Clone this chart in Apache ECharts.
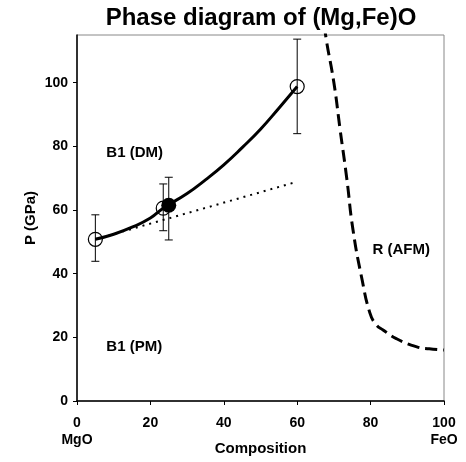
<!DOCTYPE html>
<html><head><meta charset="utf-8">
<script src="https://cdn.jsdelivr.net/npm/echarts@6/dist/echarts.min.js"></script>
<style>html,body{margin:0;padding:0;background:#fff}#c{width:466px;height:462px}</style>
</head><body><div id="c"></div>
<script>
// Measured points: [composition, pressure]
const openPoints = [[5, 50.8], [23.5, 60.6], [60, 98.8]];
const filledPoints = [[25, 61.5]];
// Error bars: [composition, low, high]
const errorBars = [[5, 43.9, 58.5], [23.5, 53.5, 68.2], [25, 50.6, 70.3], [60, 84.0, 113.7]];
// B1 DM/PM boundary (solid curve)
const boundaryCurve = [[5, 50.8], [10, 52.4], [15, 54.6], [20, 57.5], [23.5, 60.6], [30, 65.2], [35, 69.5], [40, 74.2], [45, 79.6], [50, 85.4], [55, 92], [60, 98.8]];
// Linear trend (dotted)
const linearTrend = [[5, 50.8], [60, 68.9]];
// B1 / R transition (dashed)
const rBoundary = [[67.4, 118], [68, 113], [70, 100], [71.7, 85.2], [73.5, 70], [75.2, 53.8], [77.7, 38], [79.8, 27.7], [81.5, 24], [83.4, 22.3], [87, 19.6], [92.6, 17], [96, 16.4], [100, 16]];
// Region labels
const regionLabels = [[8, 78, 'B1 (DM)'], [8, 17, 'B1 (PM)'], [80.5, 47.5, 'R (AFM)']];
const xTicks = [0, 20, 40, 60, 80, 100];
const yTicks = [0, 20, 40, 60, 80, 100];
const xEndNames = {0: 'MgO', 100: 'FeO'};

const font = 'Liberation Sans, Arial, sans-serif';
const chart = echarts.init(document.getElementById('c'));
chart.setOption({
  animation: false,
  title: {text: 'Phase diagram of (Mg,Fe)O', left: 256, textAlign: 'center', top: 1,
    textStyle: {fontFamily: font, fontWeight: 'bold', fontSize: 24, color: '#000'}},
  grid: {left: 77, right: 22, top: 35, bottom: 61, show: true, borderColor: '#888', borderWidth: 1,
    containLabel: false, outerBoundsMode: 'none'},
  xAxis: {type: 'value', min: 0, max: 100, interval: 20,
    name: 'Composition', nameLocation: 'middle', nameGap: 40, nameMoveOverlap: false,
    nameTextStyle: {fontFamily: font, fontWeight: 'bold', fontSize: 15, color: '#000'},
    axisLine: {lineStyle: {color: '#000', width: 1.5}},
    axisTick: {show: true, length: 4, lineStyle: {color: '#000'}, customValues: xTicks},
    splitLine: {show: false},
    axisLabel: {customValues: xTicks, margin: 14, fontFamily: font, fontWeight: 'bold', fontSize: 14, color: '#000', lineHeight: 17,
      formatter: v => xEndNames[v] ? v + '\n' + xEndNames[v] : '' + v}},
  yAxis: {type: 'value', min: 0, max: 115, interval: 20,
    name: 'P (GPa)', nameLocation: 'middle', nameGap: 39, nameRotate: 90, nameMoveOverlap: false,
    nameTextStyle: {fontFamily: font, fontWeight: 'bold', fontSize: 15, color: '#000'},
    axisLine: {show: true, lineStyle: {color: '#000', width: 1.5}},
    axisTick: {show: true, length: 4, lineStyle: {color: '#000'}, customValues: yTicks},
    splitLine: {show: false},
    axisLabel: {customValues: yTicks, margin: 9, fontFamily: font, fontWeight: 'bold', fontSize: 14, color: '#000'}},
  series: [
    {type: 'line', data: linearTrend, symbol: 'none', lineStyle: {color: '#000', width: 2, type: [2, 5]}, z: 2},
    {type: 'line', data: boundaryCurve, smooth: true, symbol: 'none', lineStyle: {color: '#000', width: 3}, z: 3},
    {type: 'line', data: rBoundary, smooth: true, symbol: 'none', clip: true, lineStyle: {color: '#000', width: 3, type: [12, 6]}, z: 3},
    {type: 'custom', data: errorBars, z: 4, clip: false,
      renderItem: (params, api) => {
        const x = api.value(0);
        const lo = api.coord([x, api.value(1)]);
        const hi = api.coord([x, api.value(2)]);
        const w = 4;
        const st = {stroke: '#000', lineWidth: 1};
        return {type: 'group', children: [
          {type: 'line', shape: {x1: lo[0], y1: lo[1], x2: hi[0], y2: hi[1]}, style: st},
          {type: 'line', shape: {x1: lo[0] - w, y1: lo[1], x2: lo[0] + w, y2: lo[1]}, style: st},
          {type: 'line', shape: {x1: hi[0] - w, y1: hi[1], x2: hi[0] + w, y2: hi[1]}, style: st}
        ]};
      }},
    {type: 'scatter', data: openPoints, symbol: 'circle', symbolSize: 14, z: 5,
      itemStyle: {color: 'rgba(255,255,255,0)', borderColor: '#000', borderWidth: 1.2, opacity: 1}},
    {type: 'scatter', data: filledPoints, symbol: 'circle', symbolSize: 15, z: 6,
      itemStyle: {color: '#000', opacity: 1}},
    {type: 'scatter', data: regionLabels.map(r => ({value: [r[0], r[1]], name: r[2]})), symbolSize: 0, z: 7,
      itemStyle: {opacity: 1},
      label: {show: true, position: 'right', distance: 0, formatter: p => p.name,
        fontFamily: font, fontWeight: 'bold', fontSize: 15, color: '#000'}}
  ]
});
</script></body></html>
